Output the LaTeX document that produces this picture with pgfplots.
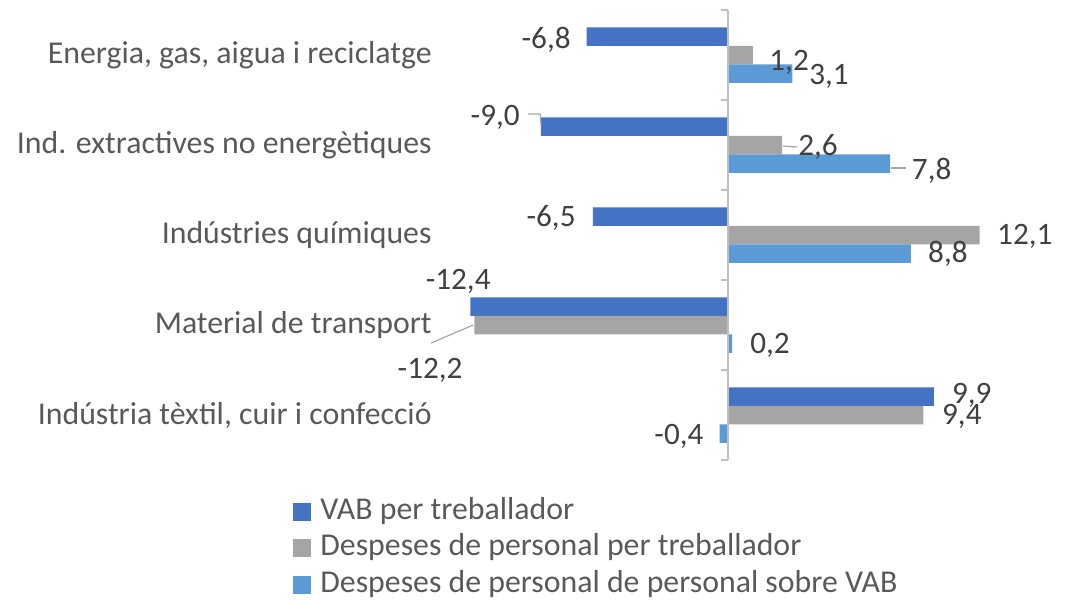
\documentclass[border=0pt]{standalone}
\usepackage{pgfplots}
\pgfplotsset{compat=1.18}
\usepackage{fontspec}
\setmainfont{Carlito}
\definecolor{s1}{HTML}{4472C4}
\definecolor{s2}{HTML}{A5A5A5}
\definecolor{s3}{HTML}{5B9BD5}
\definecolor{txt}{HTML}{595959}
\definecolor{lbl}{HTML}{404040}
\definecolor{axc}{HTML}{BFBFBF}
\definecolor{lead}{HTML}{A6A6A6}
\newcommand{\catfont}{\fontsize{15.9}{18}\selectfont}
\newcommand{\lblfont}{\fontsize{15.6}{18}\selectfont}
\begin{document}
\begin{tikzpicture}
\useasboundingbox (-218.5pt,-69.5pt) rectangle (315.5pt,230pt);
\begin{axis}[
  at={(0,0)}, anchor=south west,
  scale only axis, width=291pt, height=225pt,
  xbar=0pt, bar width=9.25pt,
  xmin=-14, xmax=14, ymin=-0.5, ymax=4.5, y dir=reverse,
  clip=false,
  axis line style={draw=none},
  xtick=\empty,
  ytick={0,1,2,3,4},
  yticklabels={{Energia, gas, aigua i reciclatge},{Ind. extractives no energètiques},{Indústries químiques},{Material de transport},{Indústria tèxtil, cuir i confecció}},
  major tick length=0pt,
  yticklabel style={font=\catfont, text=txt, inner sep=0pt, xshift=-2.5pt},
  legend style={at={(-0.2474,-0.0822)}, anchor=north west, draw=none, fill=none,
    font=\catfont, text=txt, row sep=3.75pt, inner sep=0pt,
    nodes={inner sep=0pt, text height=11pt, text depth=3.5pt},
    /tikz/every odd column/.append style={column sep=4.5pt}},
  legend cell align=left,
  legend image code/.code={\fill[#1] (0pt,-4.5pt) rectangle (9pt,4.5pt);},
]
\addplot[fill=s1, draw=none, bar shift=9.25pt] coordinates {(-6.8,0) (-9.0,1) (-6.5,2) (-12.4,3) (9.9,4)};
\addplot[fill=s2, draw=none, bar shift=0pt] coordinates {(1.2,0) (2.6,1) (12.1,2) (-12.2,3) (9.4,4)};
\addplot[fill=s3, draw=none, bar shift=-9.25pt] coordinates {(3.1,0) (7.8,1) (8.8,2) (0.2,3) (-0.4,4)};
\legend{VAB per treballador, Despeses de personal per treballador, Despeses de personal de personal sobre VAB}

\draw[axc, line width=0.75pt] (axis cs:0,-0.5) -- (axis cs:0,4.5);
\pgfplotsinvokeforeach{-0.5,0.5,1.5,2.5,3.5,4.5}{\draw[axc, line width=0.75pt] (axis cs:0,#1) -- ++(-3.5pt,0pt);}

\draw[lead, line width=0.6pt] (axis cs:-9.62,0.656) -- (axis cs:-9.04,0.656) -- (axis cs:-8.99,0.789);
\draw[lead, line width=0.6pt] (axis cs:2.64,1.011) -- (axis cs:3.32,1.022);
\draw[lead, line width=0.6pt] (axis cs:7.84,1.256) -- (axis cs:8.56,1.256);
\draw[lead, line width=0.6pt] (axis cs:-12.26,3.0) -- (axis cs:-14.28,3.2);

\tikzset{dl/.style={font=\lblfont, text=lbl, inner sep=0pt}}
\node[dl] at (axis cs:-8.75,-0.17) {-6,8};
\node[dl] at (axis cs:2.94,0.078) {1,2};
\node[dl] at (axis cs:4.86,0.233) {3,1};
\node[dl] at (axis cs:-11.2,0.689) {-9,0};
\node[dl] at (axis cs:4.33,1.022) {2,6};
\node[dl] at (axis cs:9.8,1.289) {7,8};
\node[dl] at (axis cs:-8.51,1.811) {-6,5};
\node[dl] at (axis cs:14.28,2.011) {12,1};
\node[dl] at (axis cs:10.58,2.211) {8,8};
\node[dl] at (axis cs:-12.98,2.511) {-12,4};
\node[dl] at (axis cs:-14.33,3.5) {-12,2};
\node[dl] at (axis cs:2.02,3.222) {0,2};
\node[dl] at (axis cs:11.73,3.778) {9,9};
\node[dl] at (axis cs:11.25,4.011) {9,4};
\node[dl] at (axis cs:-2.36,4.233) {-0,4};
\end{axis}
\end{tikzpicture}
\end{document}
